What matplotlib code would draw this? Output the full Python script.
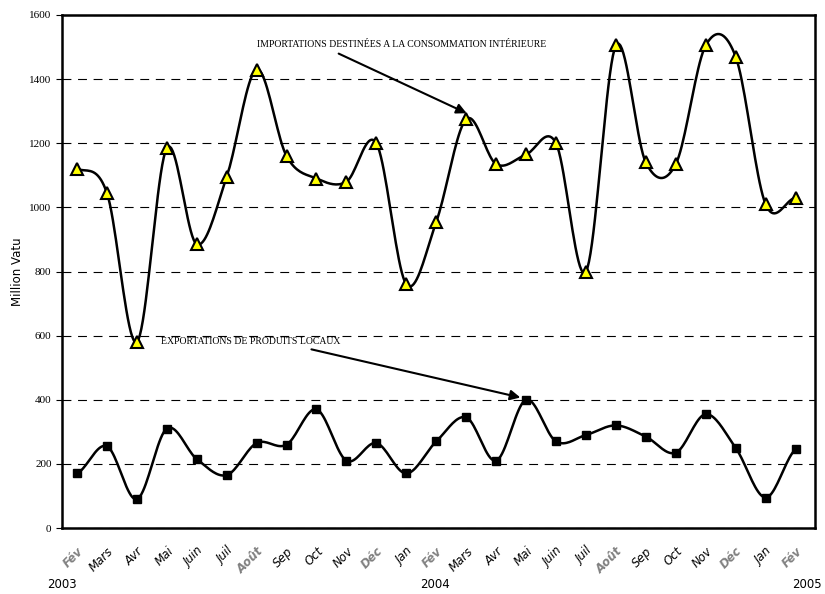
import numpy as np
import matplotlib.pyplot as plt

months = ['Fév', 'Mars', 'Avr', 'Mai', 'Juin', 'Juil', 'Août', 'Sep', 'Oct', 'Nov', 'Déc', 'Jan',
          'Fév', 'Mars', 'Avr', 'Mai', 'Juin', 'Juil', 'Août', 'Sep', 'Oct', 'Nov', 'Déc', 'Jan', 'Fév']
imports = [1120, 1045, 580, 1185, 885, 1095, 1430, 1160, 1090, 1080, 1200, 760, 955,
           1275, 1135, 1165, 1200, 800, 1505, 1140, 1135, 1505, 1470, 1010, 1030]
exports = [170, 255, 90, 310, 215, 165, 265, 260, 370, 210, 265, 170, 270,
           345, 210, 400, 270, 290, 320, 285, 235, 355, 250, 95, 245]
gray_months = ['Fév', 'Août', 'Déc']


def smooth(y, n=20):
    # catmull-rom through the points
    y = np.asarray(y, float)
    p = np.concatenate([[y[0]], y, [y[-1]]])
    xs, ys = [], []
    for i in range(len(y) - 1):
        t = np.linspace(0, 1, n, endpoint=False)
        p0, p1, p2, p3 = p[i], p[i + 1], p[i + 2], p[i + 3]
        v = 0.5 * (2 * p1 + (-p0 + p2) * t + (2 * p0 - 5 * p1 + 4 * p2 - p3) * t ** 2
                   + (-p0 + 3 * p1 - 3 * p2 + p3) * t ** 3)
        xs.append(i + t)
        ys.append(v)
    xs.append([len(y) - 1])
    ys.append([y[-1]])
    return np.concatenate(xs), np.concatenate(ys)


fig = plt.figure(figsize=(8.25, 5.94), dpi=100)
ax = fig.add_axes([62 / 825, 1 - 528 / 594, 753 / 825, 513 / 594])
x = np.arange(len(months))

sx, sy = smooth(imports)
ax.plot(sx, sy, color='black', lw=1.8, zorder=2)
ax.plot(x, imports, ls='none', marker='^', ms=8, mfc='yellow', mec='black', mew=1.5, zorder=3)
sx, sy = smooth(exports)
ax.plot(sx, sy, color='black', lw=1.8, zorder=2)
ax.plot(x, exports, ls='none', marker='s', ms=5.5, color='black', zorder=3)

ax.set_xlim(-0.5, len(months) - 0.35)
ax.set_ylim(0, 1600)
ax.set_yticks(range(0, 1601, 200))
ax.set_yticklabels([str(v) for v in range(0, 1601, 200)], family='Liberation Serif', fontsize=8)
ax.yaxis.grid(True, ls=(0, (8, 6)), color='black', lw=0.8)
ax.set_axisbelow(True)
for s in ax.spines.values():
    s.set_linewidth(1.8)
ax.set_xticks(x)
ax.set_xticklabels(months, rotation=45, ha='right', rotation_mode='anchor', style='italic', fontsize=8.5)
for lab, m in zip(ax.get_xticklabels(), months):
    if m in gray_months:
        lab.set_color('gray')
        lab.set_fontweight('bold')
ax.tick_params(axis='x', length=0, pad=12)
ax.tick_params(axis='y', length=4)
ax.set_ylabel('Million Vatu', fontsize=8.5)

ax.annotate('IMPORTATIONS DESTINÉES A LA CONSOMMATION INTÉRIEURE', xy=(13.1, 1290), xytext=(6.0, 1500),
            family='Liberation Serif', fontsize=7,
            arrowprops=dict(arrowstyle='-|>', color='black', lw=1.5, mutation_scale=15,
                            relpos=(0.25, 0), shrinkA=3))
ax.annotate('EXPORTATIONS DE PRODUITS LOCAUX', xy=(14.9, 405), xytext=(2.8, 575),
            family='Liberation Serif', fontsize=7,
            arrowprops=dict(arrowstyle='-|>', color='black', lw=1.5, mutation_scale=15,
                            relpos=(0.75, 0), shrinkA=3))

fig.text(62 / 825, 1 - 585 / 594, '2003', ha='center', va='center', fontsize=8.5)
fig.text(435 / 825, 1 - 585 / 594, '2004', ha='center', va='center', fontsize=8.5)
fig.text(822 / 825, 1 - 585 / 594, '2005', ha='right', va='center', fontsize=8.5)

fig.savefig('out.png')
